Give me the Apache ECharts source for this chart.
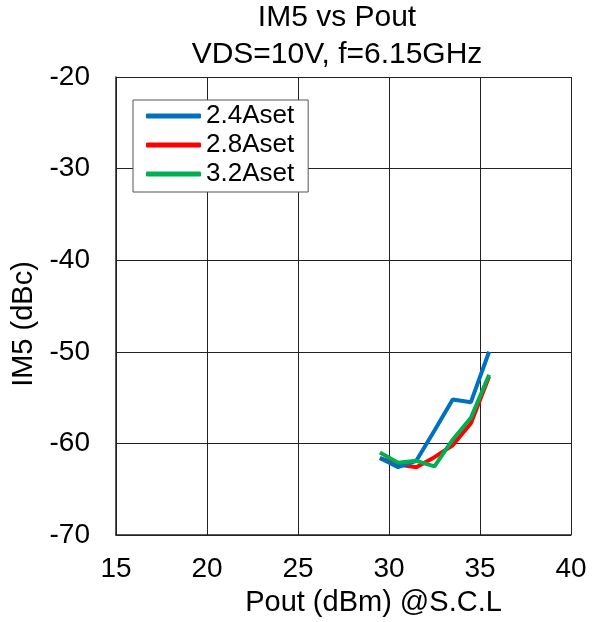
<!DOCTYPE html>
<html>
<head>
<meta charset="utf-8">
<script src="https://cdn.jsdelivr.net/npm/echarts@6/dist/echarts.min.js"></script>
<style>
  html, body { margin: 0; padding: 0; background: #fff; }
  #chart { width: 598px; height: 622px; }
</style>
</head>
<body>
<div id="chart"></div>
<script>
// Output power sweep (dBm)
const pout = [29.5, 30.5, 31.5, 32.5, 33.5, 34.5, 35.5];
// IM5 (dBc) for each bias current setting
const im5_24A = [-61.6, -62.6, -61.9, -58.6, -55.2, -55.5, -50.0];
const im5_28A = [-61.6, -62.3, -62.6, -61.5, -60.2, -57.8, -52.7];
const im5_32A = [-61.0, -62.1, -61.9, -62.5, -59.6, -57.2, -52.5];
const seriesNames = ['2.4Aset', '2.8Aset', '3.2Aset'];
const xTicks = [15, 20, 25, 30, 35, 40];
const yTicks = [-70, -60, -50, -40, -30, -20];

const font = 'Liberation Sans, Arial, sans-serif';
const pairs = (ys) => pout.map((x, i) => [x, ys[i]]);

const chart = echarts.init(document.getElementById('chart'), null, { renderer: 'canvas' });
chart.setOption({
  animation: false,
  backgroundColor: '#ffffff',
  title: {
    text: 'IM5 vs Pout\nVDS=10V, f=6.15GHz',
    left: 337,
    top: -1,
    padding: 0,
    textAlign: 'center',
    textStyle: { fontFamily: font, fontSize: 30, fontWeight: 'normal', color: '#000', lineHeight: 37 }
  },
  legend: {
    orient: 'vertical',
    left: 133,
    top: 100,
    data: seriesNames,
    icon: 'roundRect',
    itemWidth: 55,
    itemHeight: 5,
    itemGap: 3,
    padding: [3, 14, 5, 13],
    backgroundColor: '#fff',
    borderColor: '#555',
    borderWidth: 1,
    borderRadius: 0,
    textStyle: { fontFamily: font, fontSize: 26, lineHeight: 26, color: '#000' }
  },
  grid: { left: 116, right: 27, top: 77, bottom: 86, containLabel: false },
  xAxis: {
    type: 'value',
    min: xTicks[0], max: xTicks[xTicks.length - 1], interval: 5,
    name: 'Pout (dBm) @S.C.L',
    nameLocation: 'middle',
    nameGap: 53,
    nameTextStyle: { fontFamily: font, fontSize: 29, color: '#000', padding: [0, 0, 0, 60] },
    axisLine: { show: true, lineStyle: { color: '#222', width: 1.5 } },
    axisTick: { show: true, inside: true, length: 6, lineStyle: { color: '#222' } },
    axisLabel: { fontFamily: font, fontSize: 28, color: '#000', margin: 20 },
    splitLine: { show: true, lineStyle: { color: '#222', width: 1 } }
  },
  yAxis: {
    type: 'value',
    min: yTicks[0], max: yTicks[yTicks.length - 1], interval: 10,
    name: 'IM5 (dBc)',
    nameLocation: 'middle',
    nameGap: 74,
    nameRotate: 90,
    nameTextStyle: { fontFamily: font, fontSize: 29, color: '#000', padding: [0, 36, 0, 0] },
    axisLine: { show: true, lineStyle: { color: '#222', width: 1.5 } },
    axisTick: { show: true, inside: true, length: 6, lineStyle: { color: '#222' } },
    axisLabel: { fontFamily: font, fontSize: 28, color: '#000', margin: 26 },
    splitLine: { show: true, lineStyle: { color: '#222', width: 1 } }
  },
  series: [
    { name: seriesNames[0], type: 'line', data: pairs(im5_24A), showSymbol: false, symbol: 'none',
      color: '#0070C0', lineStyle: { width: 4, color: '#0070C0' }, z: 3 },
    { name: seriesNames[1], type: 'line', data: pairs(im5_28A), showSymbol: false, symbol: 'none',
      color: '#FF0000', lineStyle: { width: 4, color: '#FF0000' }, z: 2 },
    { name: seriesNames[2], type: 'line', data: pairs(im5_32A), showSymbol: false, symbol: 'none',
      color: '#00B050', lineStyle: { width: 4, color: '#00B050' }, z: 4 }
  ]
});
</script>
</body>
</html>
